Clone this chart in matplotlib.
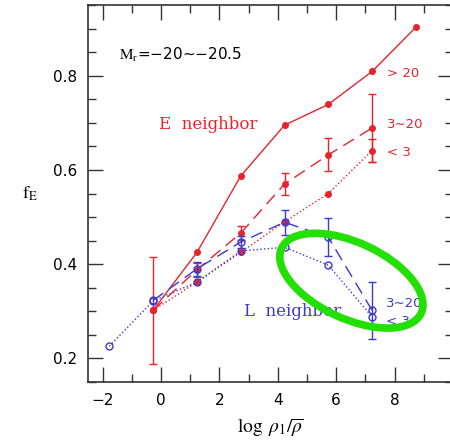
import numpy as np
import matplotlib.pyplot as plt
from matplotlib.patches import Ellipse
from matplotlib.transforms import ScaledTranslation
from matplotlib.ticker import MultipleLocator

plt.rcParams['mathtext.fontset'] = 'stix'

# density bins (log rho_1 / rho_bar)
x_bins = np.array([-1.77, -0.27, 1.23, 2.73, 4.23, 5.73, 7.23, 8.73])

# early-type neighbour
e_gt20 = [0.302, 0.425, 0.587, 0.695, 0.739, 0.809, 0.903]
e_mid = [0.302, 0.388, 0.466, 0.570, 0.632, 0.689]
e_mid_err = [0.114, 0.015, 0.015, 0.024, 0.035, 0.073]
e_lt3 = [0.302, 0.362, 0.425, 0.490, 0.550, 0.641]
e_lt3_err = [0.024]

# late-type neighbour
l_mid = [0.323, 0.390, 0.447, 0.489, 0.457, 0.302]
l_mid_err = [0.015, 0.013, 0.027, 0.040, 0.060]
l_lt3 = [0.226, 0.322, 0.362, 0.428, 0.436, 0.398, 0.288]

red = '#e8232b'
blue = '#3a3ad0'

fig = plt.figure(figsize=(4.5, 4.41), dpi=100)
ax = fig.add_axes([88/450, 59/441, 365/450, 377/441])

# E neighbor
ax.plot(x_bins[1:], e_gt20, '-o', c=red, lw=1.0, ms=4, mec=red)
ax.plot(x_bins[1:7], e_mid, '-o', c=red, lw=1.0, ms=4, dashes=(9, 5))
ax.errorbar(x_bins[1:7], e_mid, yerr=e_mid_err, fmt='none', ecolor=red,
            elinewidth=1.0, capsize=3)
ax.plot(x_bins[1:7], e_lt3, ':o', c=red, lw=1.0, ms=4)
ax.errorbar(x_bins[6:7], e_lt3[-1:], yerr=e_lt3_err, fmt='none', ecolor=red,
            elinewidth=1.0, capsize=3)

# L neighbor
ax.plot(x_bins[1:7], l_mid, '-o', c=blue, lw=1.0, ms=5, mfc='none',
        dashes=(9, 5))
ax.errorbar(x_bins[2:7], l_mid[1:], yerr=l_mid_err, fmt='none', ecolor=blue,
            elinewidth=1.0, capsize=3)
ax.plot(x_bins[:7], l_lt3, ':o', c=blue, lw=1.0, ms=5, mfc='none')

ax.set_xlim(-2.5, 10)
ax.set_ylim(0.15, 0.95)
ax.xaxis.set_major_locator(MultipleLocator(2))
ax.xaxis.set_minor_locator(MultipleLocator(1))
ax.yaxis.set_major_locator(MultipleLocator(0.2))
ax.yaxis.set_minor_locator(MultipleLocator(0.05))
ax.tick_params(which='both', direction='in', top=True, right=True,
               width=1.0, color='#333333')
ax.tick_params(which='major', length=11, labelsize=11, pad=8)
ax.tick_params(which='minor', length=6)
ax.set_xticks(np.arange(-2, 9, 2))
ax.set_xticklabels(['\u22122', '0', '2', '4', '6', '8'])
ax.set_yticks([0.2, 0.4, 0.6, 0.8])
ax.set_yticklabels(['0.2', '0.4', '0.6', '0.8'])
for sp in ax.spines.values():
    sp.set_linewidth(1.2)
    sp.set_color('#333333')

ax.set_xlabel(r'$\log\ \rho_1/\overline{\rho}$', fontsize=14)
ax.xaxis.set_label_coords(0.5, -0.12)
ax.xaxis.label.set_va('center')
ax.set_ylabel(r'$\mathrm{f_E}$', fontsize=13, rotation=0)
ax.yaxis.set_label_coords(-0.16, 0.5)
ax.yaxis.label.set_va('center')

ax.text(-1.44, 0.845, '$\\mathrm{M_r}$=\u221220\u223c\u221220.5', fontsize=11,
        va='center')
ax.text(-0.07, 0.697, 'E  neighbor', color=red, fontsize=12,
        family='DejaVu Serif', va='center')
ax.text(2.84, 0.300, 'L  neighbor', color=blue, fontsize=12,
        family='DejaVu Serif', va='center')
ax.text(7.74, 0.805, '> 20', color=red, fontsize=9.5, va='center')
ax.text(7.74, 0.697, '3\u223c20', color=red, fontsize=9.5, va='center')
ax.text(7.74, 0.637, '< 3', color=red, fontsize=9.5, va='center')
ax.text(7.7, 0.317, '3\u223c20', color=blue, fontsize=9.5, va='center')
ax.text(7.7, 0.279, '< 3', color=blue, fontsize=9.5, va='center')

# highlight ring around the high-density L neighbor bins
ring = Ellipse((0, 0), 1.54, 0.76, angle=-25, fill=False, ec='#22e000',
               lw=5.5, zorder=10,
               transform=fig.dpi_scale_trans + ScaledTranslation(6.52, 0.365, ax.transData))
ax.add_patch(ring)

fig.savefig('out.png', dpi=100)
